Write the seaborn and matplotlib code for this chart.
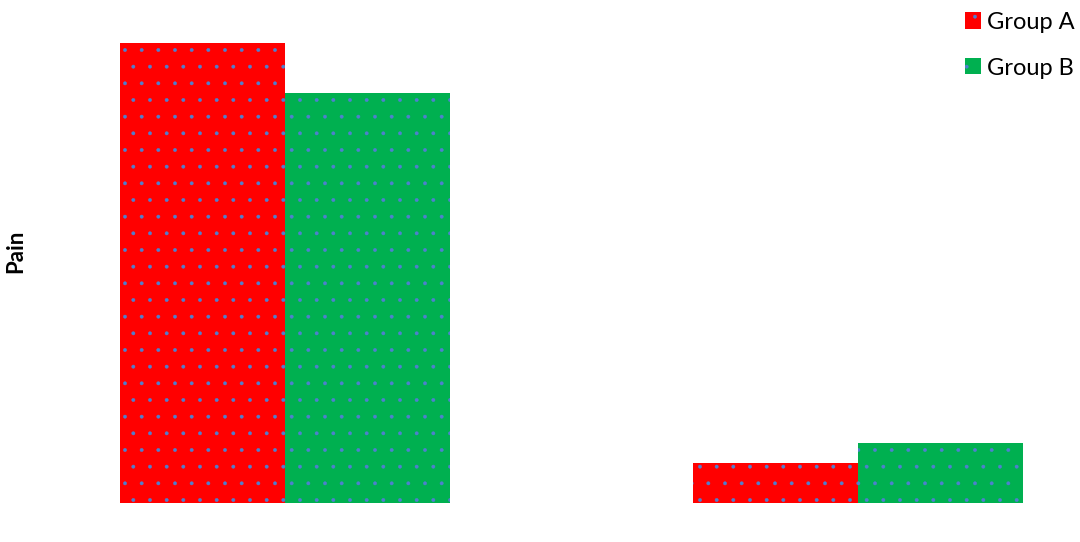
import matplotlib
matplotlib.use("Agg")
import matplotlib.pyplot as plt
import seaborn as sns
import pandas as pd

# values (no axis shown, units are relative)
categories = ["Condition 1", "Condition 2"]
groups = ["Group A", "Group B"]
group_a = [4.6, 0.4]
group_b = [4.1, 0.6]

palette = {"Group A": "#FF0000", "Group B": "#00B050"}
hatch_color = "#4F7FCF"

df = pd.DataFrame({
    "category": categories * 2,
    "group": [groups[0]] * len(categories) + [groups[1]] * len(categories),
    "pain": group_a + group_b,
})

sns.set_theme(style="white")
plt.rcParams["font.family"] = ["Lato", "DejaVu Sans"]
plt.rcParams["hatch.linewidth"] = 0.3

fig = plt.figure(figsize=(10.8, 5.42), dpi=100)
ax = fig.add_axes([120 / 1080, 39 / 542, 903 / 1080, 460 / 542])

sns.barplot(data=df, x="category", y="pain", hue="group", palette=palette,
            width=0.575, gap=0, saturation=1, ax=ax, legend=False)

for cont in ax.containers:
    for bar in cont:
        bar.set_hatch(".")
        bar.set_edgecolor(hatch_color)
        bar.set_linewidth(0)

ax.set_xlim(-0.2875, 1.2875)
ax.set_ylim(0, max(group_a + group_b))
sns.despine(ax=ax, left=True, bottom=True)
ax.set_xticks([])
ax.set_yticks([])
ax.set_xlabel("")
ax.set_ylabel("Pain", fontsize=16, fontweight="bold", color="black")
ax.yaxis.set_label_coords(-(120 - 26) / 903, 0.548)

handles = [cont.patches[0] for cont in ax.containers]
fig.legend(handles, groups, loc="upper right", bbox_to_anchor=(1.006, 1.0),
           frameon=False, fontsize=17, labelcolor="black",
           handlelength=0.68, handleheight=0.68, handletextpad=0.25,
           labelspacing=1.05, borderaxespad=0.2, borderpad=0.3)

fig.savefig("out.png", dpi=100)
